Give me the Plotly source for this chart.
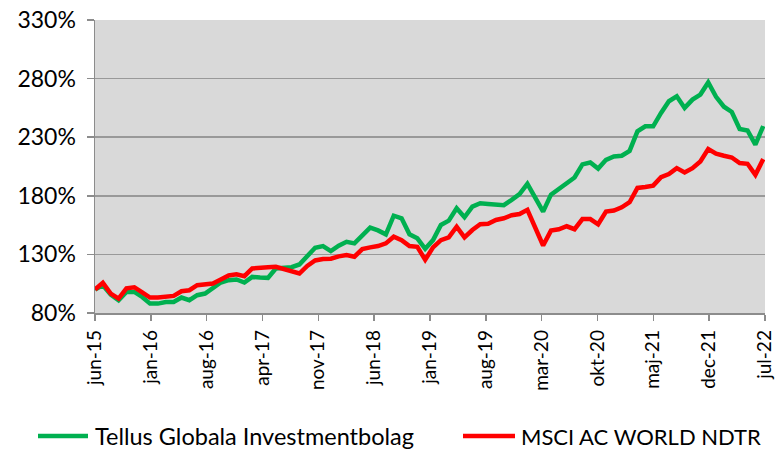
import plotly.graph_objects as go

# Monthly index values (jun-15 = 100)
tellus = [100, 103.7, 95.8, 90.9, 98, 98, 93.7, 88, 88, 89.4,
          89.4, 93.2, 90.9, 95.2, 96.6, 100.9, 106, 108, 108.6, 106,
          110.8, 110.3, 110, 118, 118.5, 119.1, 121.4, 128, 135.7, 137.1,
          132.8, 137.4, 140.8, 139.4, 145.7, 152.8, 150.5, 147.1, 163, 160.8,
          147.1, 143.7, 134.8, 142.2, 155.1, 158.8, 169.4, 161.7, 170.8, 173.7,
          173.1, 172.2, 172, 176.5, 181.4, 190.2, 178.6, 166.5, 181, 185.5,
          190, 195.6, 206.8, 208.4, 203.2, 210.7, 213.6, 214.2, 218.3, 235,
          239.3, 239.3, 250.7, 260.7, 264.9, 255, 262.1, 266.4, 276.7, 264.5,
          256, 251.5, 237, 235.7, 223.6, 239.5]

msci = [100, 105.7, 96.6, 92.3, 101.1, 102, 97.5, 93.2, 93.2, 93.7,
        94.6, 98.6, 99.4, 103.7, 104.6, 105.2, 108.6, 112, 113, 111.4,
        118, 118.9, 119.1, 119.4, 117.2, 115.7, 113.7, 120.2, 124.8, 126,
        126.3, 128.3, 129.4, 128, 134.5, 136, 137.1, 139.4, 145.1, 142.2,
        137.1, 136.5, 125.4, 136, 142.2, 144.5, 153.6, 144.5, 150.8, 155.7,
        156.2, 159.4, 160.8, 163.4, 164.5, 168, 153.3, 137.6, 150.3, 151.4,
        154, 151.5, 160.1, 160.1, 155.7, 166.5, 167.4, 170.2, 174.5, 186.7,
        187.5, 188.7, 195.9, 198.5, 203.6, 199.9, 203.6, 209.3, 219.9, 215.9,
        214.2, 212.7, 207.9, 207.3, 197.9, 211.3]

tick_labels = ["jun-15", "jan-16", "aug-16", "apr-17", "nov-17", "jun-18", "jan-19",
               "aug-19", "mar-20", "okt-20", "maj-21", "dec-21", "jul-22"]

series_names = ["Tellus Globala Investmentbolag", "MSCI AC WORLD NDTR"]
y_ticks = [80, 130, 180, 230, 280, 330]

GREEN = "#00B050"
RED = "#FF0000"
FONT = "Lato"
AXIS_GRAY = "#8C8C8C"

x = list(range(len(tellus)))
tick_step = 7.102
tick_pos = [k * tick_step for k in range(len(tick_labels))]

fig = go.Figure()
fig.add_trace(go.Scatter(x=x, y=tellus, mode="lines", name=series_names[0],
                         line=dict(color=GREEN, width=4.5), showlegend=False))
fig.add_trace(go.Scatter(x=x, y=msci, mode="lines", name=series_names[1],
                         line=dict(color=RED, width=4.5), showlegend=False))

fig.update_layout(
    width=782, height=451,
    margin=dict(l=95, r=17, t=20, b=138),
    paper_bgcolor="white",
    plot_bgcolor="#D9D9D9",
    font=dict(family=FONT, size=20, color="black"),
)
fig.update_xaxes(
    range=[0, tick_pos[-1]], automargin=False,
    tickmode="array", tickvals=tick_pos, ticktext=tick_labels,
    tickangle=-90, ticks="outside", ticklen=6, tickcolor=AXIS_GRAY, tickwidth=1.5,
    showline=True, linecolor=AXIS_GRAY, linewidth=1.5,
    showgrid=False, zeroline=False, ticklabelstandoff=2,
    tickfont=dict(family=FONT, size=19, color="black"),
)
fig.update_yaxes(
    range=[80, 330], automargin=False, tickmode="array", tickvals=y_ticks,
    ticktext=[f"{v}%" for v in y_ticks],
    ticks="outside", ticklen=7, tickcolor=AXIS_GRAY, tickwidth=1.5,
    showline=True, linecolor=AXIS_GRAY, linewidth=1.5,
    showgrid=True, gridcolor="#999999", gridwidth=1.5,
    zeroline=False, ticklabelstandoff=6,
    tickfont=dict(family=FONT, size=23, color="black"),
)

# legend drawn below the plot
leg_y = (313 - 436) / 293.0
def px_x(p):
    return (p - 95) / 670.0

for color, x0, x1, tx, name, fs in [(GREEN, 38, 88, 94, series_names[0], 23.5),
                                     (RED, 463, 515, 520, series_names[1], 22)]:
    fig.add_shape(type="line", xref="paper", yref="paper",
                  x0=px_x(x0), x1=px_x(x1), y0=leg_y, y1=leg_y,
                  line=dict(color=color, width=4.5))
    fig.add_annotation(xref="paper", yref="paper", x=px_x(tx), y=leg_y,
                       text=name, showarrow=False, xanchor="left", yanchor="middle",
                       borderpad=0,
                       font=dict(family=FONT, size=fs, color="black"))

fig.write_html("out.html", config={"displayModeBar": False, "staticPlot": True},
               post_script="document.body.style.margin='0';")
